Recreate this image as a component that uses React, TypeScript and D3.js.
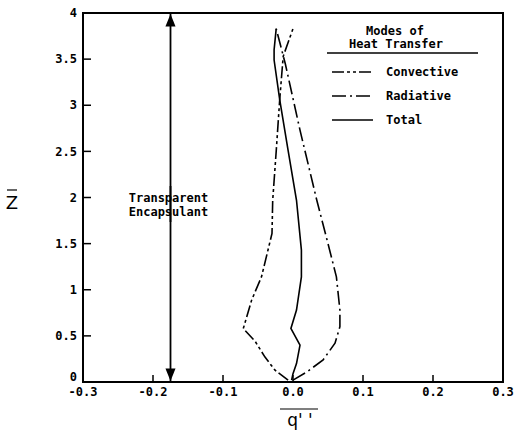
import React from "react";
import * as d3 from "d3";

// values: heat flux q'' vs dimensionless height Z
const convZ = [0.02, 0.13, 0.27, 0.44, 0.58, 0.89, 1.14, 1.61, 1.97, 2.5, 3.06, 3.53, 3.83];
const convQ = [-0.007, -0.026, -0.04, -0.054, -0.071, -0.059, -0.045, -0.03, -0.029, -0.024, -0.019, -0.014, 0.0];

const radZ = [0.02, 0.11, 0.24, 0.42, 0.6, 0.78, 1.14, 1.5, 1.97, 2.73, 3.45, 3.83];
const radQ = [0.0, 0.02, 0.043, 0.06, 0.067, 0.067, 0.062, 0.05, 0.034, 0.01, -0.011, -0.024];

const totZ = [0.02, 0.09, 0.2, 0.4, 0.58, 0.78, 1.14, 1.43, 1.97, 2.51, 3.06, 3.49, 3.6, 3.83];
const totQ = [-0.002, 0.0, 0.005, 0.01, -0.003, 0.005, 0.012, 0.012, 0.005, -0.007, -0.019, -0.027, -0.027, -0.024];

const xTicks = [-0.3, -0.2, -0.1, 0.0, 0.1, 0.2, 0.3];
const yTicks = [0, 0.5, 1, 1.5, 2, 2.5, 3, 3.5, 4];

const legendNames = ["Convective", "Radiative", "Total"];
const dashes = ["12,3,3,3,3,3", "14,4,2,4", ""];

const encapsulantQ = -0.175;

export default function App() {
  const W = 514;
  const H = 433;
  const x = d3.scaleLinear().domain([-0.3, 0.3]).range([83, 503]);
  const y = d3.scaleLinear().domain([0, 4]).range([382, 13]);

  const font = "'DejaVu Sans Mono', monospace";

  const series = [
    { z: convZ, q: convQ },
    { z: radZ, q: radQ },
    { z: totZ, q: totQ },
  ];

  const line = d3
    .line<[number, number]>()
    .x((d) => x(d[0]))
    .y((d) => y(d[1]));

  const ax = x(encapsulantQ);

  return (
    <svg
      width={W}
      height={H}
      style={{ position: "absolute", left: 0, top: 0, background: "#fff" }}
    >
      <defs>
        <marker id="ah" viewBox="0 0 10 10" refX="10" refY="5" markerWidth="7" markerHeight="7" orient="auto-start-reverse">
          <path d="M0,1 L10,5 L0,9 z" fill="#000" />
        </marker>
      </defs>

      {/* frame */}
      <rect x={x(-0.3)} y={y(4)} width={x(0.3) - x(-0.3)} height={y(0) - y(4)} fill="none" stroke="#000" strokeWidth={2} />

      {/* y ticks */}
      {yTicks.map((t) => (
        <g key={"y" + t}>
          <line x1={x(-0.3)} x2={x(-0.3) + 8} y1={y(t)} y2={y(t)} stroke="#000" strokeWidth={1.5} />
          <text x={77} y={y(t) - (t === 0 ? 5 : 0)} dy="0.35em" textAnchor="end" fontFamily={font} fontWeight="bold" fontSize={12}>
            {String(t)}
          </text>
        </g>
      ))}

      {/* x ticks */}
      {xTicks.map((t) => (
        <g key={"x" + t}>
          <line x1={x(t)} x2={x(t)} y1={y(0)} y2={y(0) - 7} stroke="#000" strokeWidth={1.5} />
          <text x={x(t)} y={392} dy="0.35em" textAnchor="middle" fontFamily={font} fontWeight="bold" fontSize={12}>
            {t.toFixed(1)}
          </text>
        </g>
      ))}

      {/* axis titles */}
      <text x={12} y={209} textAnchor="middle" fontFamily="'DejaVu Sans', sans-serif" fontSize={18}>Z</text>
      <line x1={7} x2={17} y1={190} y2={190} stroke="#000" strokeWidth={1.2} />
      <text x={300} y={426} textAnchor="middle" fontFamily="'DejaVu Sans', sans-serif" fontSize={17}>q' '</text>
      <line x1={280} x2={318} y1={409} y2={409} stroke="#000" strokeWidth={1.2} />

      {/* encapsulant arrow */}
      <line x1={ax} x2={ax} y1={y(0) - 1} y2={186} stroke="#000" strokeWidth={1.8} markerStart="url(#ah)" />
      <line x1={ax} x2={ax} y1={222} y2={y(4) + 1} stroke="#000" strokeWidth={1.8} markerEnd="url(#ah)" />
      <text x={ax - 2} y={198} dy="0.35em" textAnchor="middle" fontFamily={font} fontWeight="bold" fontSize={12}>Transparent</text>
      <text x={ax - 2} y={212} dy="0.35em" textAnchor="middle" fontFamily={font} fontWeight="bold" fontSize={12}>Encapsulant</text>

      {/* curves */}
      {series.map((s, i) => (
        <path
          key={"s" + i}
          d={line(s.z.map((zz, j) => [s.q[j], zz] as [number, number])) || ""}
          fill="none"
          stroke="#000"
          strokeWidth={1.6}
          strokeDasharray={dashes[i] || undefined}
        />
      ))}

      {/* legend */}
      <text x={395} y={31} dy="0.35em" textAnchor="middle" fontFamily={font} fontWeight="bold" fontSize={12}>Modes of</text>
      <text x={396} y={44} dy="0.35em" textAnchor="middle" fontFamily={font} fontWeight="bold" fontSize={12}>Heat Transfer</text>
      <line x1={327} x2={478} y1={53} y2={53} stroke="#000" strokeWidth={1.4} />
      {legendNames.map((n, i) => {
        const ly = 72 + i * 24;
        return (
          <g key={n}>
            <line x1={332} x2={373} y1={ly} y2={ly} stroke="#000" strokeWidth={1.6} strokeDasharray={dashes[i] || undefined} />
            <text x={386} y={ly} dy="0.35em" fontFamily={font} fontWeight="bold" fontSize={12}>{n}</text>
          </g>
        );
      })}
    </svg>
  );
}
